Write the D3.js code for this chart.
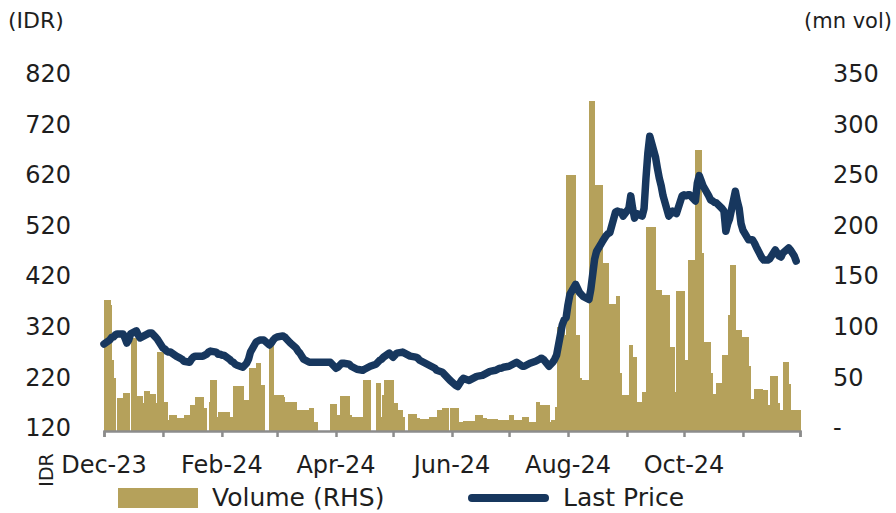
<!DOCTYPE html>
<html>
<head>
<meta charset="utf-8">
<script src="https://cdn.jsdelivr.net/npm/d3@7"></script>
<style>
  body { margin: 0; background: #fff; }
  svg { display: block; font-family: "DejaVu Sans", Verdana, sans-serif; }
</style>
</head>
<body>
<div class="chart"></div>
<script>
var w = 896;
var h = 513;

// trading days (weekdays) Dec-23 .. Nov-24
var tradeDays = d3.timeDay.range(new Date(2023, 11, 1), new Date(2024, 10, 30))
    .filter(function(d) { return d.getDay() % 6 !== 0; });

// volume, mn shares (one value per weekday, month by month)
var volume = [
  130,125,70,52,0,33,38,38,38,0,92,35,35,35,28,40,37,37,37,28,78,          // Dec
  29,29,11,16,16,13,13,13,13,16,26,26,26,34,34,23,23,0,29,50,14,19,19,     // Jan
  19,19,14,14,44,44,44,31,31,31,62,62,67,67,45,45,0,87,87,36,36,           // Feb
  36,34,29,29,29,29,21,21,21,21,21,23,23,9,9,0,0,0,0,0,27,                 // Mar
  16,16,35,35,35,16,14,14,14,14,50,50,50,50,0,47,47,14,36,50,50,50,        // Apr
  28,28,21,14,0,0,17,17,13,13,12,12,12,14,14,14,14,21,23,23,23,0,23,       // May
  23,9,9,9,10,10,10,10,16,16,13,13,12,12,12,12,11,11,11,11,                // Jun
  16,16,11,11,11,14,14,14,9,9,29,29,26,26,26,9,11,11,24,103,105,95,253,    // Jul
  253,253,95,95,52,50,50,326,326,326,243,243,166,166,166,126,126,133,133,57,36,36, // Aug
  85,85,73,73,29,39,39,202,202,202,139,139,139,134,134,83,83,83,39,138,138, // Sep
  70,70,169,169,278,278,278,176,88,88,57,37,37,47,75,75,75,115,164,100,100,100,93, // Oct
  93,64,32,32,42,42,41,41,41,26,54,54,28,21,21,68,46,21,21,21,21           // Nov
];

// last price, IDR
var price = [
  292,300,305,306,310,312,312,304,294,300,312,318,310,304,306,308,314,314,310,306,302,
  284,282,278,276,276,268,266,264,262,258,256,262,266,268,268,268,270,272,276,278,276,272,272,
  270,270,262,258,256,252,250,246,250,254,262,276,296,298,300,300,300,290,294,300,304,
  306,308,306,302,298,294,284,278,274,268,262,256,256,256,256,256,256,256,256,256,256,
  244,246,250,254,254,252,248,246,244,242,240,242,244,246,248,252,256,260,262,266,274,270,
  266,270,274,276,274,272,270,268,266,264,260,258,256,250,248,246,244,240,236,232,228,224,220,
  210,208,214,220,224,220,222,224,226,228,230,232,234,236,238,240,242,244,244,246,
  248,250,252,254,256,248,248,250,252,254,258,260,262,264,262,248,252,256,262,270,330,340,344,
  370,390,410,402,394,390,386,380,400,430,460,475,494,500,506,510,512,553,555,553,553,545,
  560,585,560,541,550,545,560,620,670,703,662,640,620,605,585,545,550,555,553,550,585,
  587,585,587,587,575,610,625,615,605,585,577,575,572,571,560,555,515,530,540,594,575,560,530,
  517,498,498,498,492,484,462,458,458,458,460,478,472,466,464,472,482,478,472,466,456
];

var priceTicks = [120, 220, 320, 420, 520, 620, 720, 820];
var volumeTicks = [0, 50, 100, 150, 200, 250, 300, 350];
var monthTicks = d3.timeMonth.range(new Date(2023, 11, 1), new Date(2024, 11, 1));
var monthLabels = ["Dec-23", "Feb-24", "Apr-24", "Jun-24", "Aug-24", "Oct-24"];

var axisEnd = new Date(2024, 11, 1);
var x = d3.scaleTime().domain([new Date(2023, 11, 1), axisEnd]).range([104, 800]);
var yL = d3.scaleLinear().domain([120, 820]).range([431, 77]);
var yR = d3.scaleLinear().domain([0, 350]).range([431, 77]);

var svg = d3.select(".chart").append("svg")
    .attr("width", w)
    .attr("height", h);

// volume bars
svg.append("g")
    .attr("shape-rendering", "crispEdges")
    .selectAll("rect")
    .data(volume)
    .enter()
    .append("rect")
    .attr("x", function(d, i) { return x(tradeDays[i]); })
    .attr("width", function(d, i) {
        var next = i < tradeDays.length - 1 ? tradeDays[i + 1] : axisEnd;
        return x(next) - x(tradeDays[i]) + 0.8;
    })
    .attr("y", function(d) { return yR(d); })
    .attr("height", function(d) { return yR(0) - yR(d); })
    .attr("fill", "#B5A15B");

// x axis line + month ticks
var xAxis = svg.append("g")
    .attr("transform", "translate(0,431)")
    .call(d3.axisBottom(x).tickValues(monthTicks.concat([axisEnd])).tickSize(6).tickFormat(""));
xAxis.select(".domain").attr("stroke", "#8c8c8c").attr("stroke-width", 2.5);
xAxis.selectAll(".tick line").attr("stroke", "#8c8c8c").attr("stroke-width", 2.5);

svg.append("g").selectAll("text")
    .data(monthLabels)
    .enter()
    .append("text")
    .attr("x", function(d, i) { return x(monthTicks[i * 2]); })
    .attr("y", 473)
    .attr("text-anchor", "middle")
    .attr("font-size", "24px")
    .attr("fill", "#1e1e1e")
    .text(function(d) { return d; });

// price line
var line = d3.line()
    .x(function(d, i) { return x(tradeDays[i]); })
    .y(function(d) { return yL(d); });

svg.append("path")
    .datum(price)
    .attr("d", line)
    .attr("fill", "none")
    .attr("stroke", "#17375E")
    .attr("stroke-width", 7.5)
    .attr("stroke-linejoin", "round")
    .attr("stroke-linecap", "round");

// left axis labels
var left = svg.append("g")
    .attr("transform", "translate(104,-3)")
    .call(d3.axisLeft(yL).tickValues(priceTicks).tickSize(0).tickPadding(33));
left.select(".domain").remove();
left.selectAll("text").attr("font-size", "24px").attr("font-family", "DejaVu Sans").attr("fill", "#1e1e1e");

// right axis labels
var right = svg.append("g")
    .attr("transform", "translate(800,-3)")
    .call(d3.axisRight(yR).tickValues(volumeTicks).tickSize(0).tickPadding(33)
        .tickFormat(function(d) { return d === 0 ? "-" : d; }));
right.select(".domain").remove();
right.selectAll("text").attr("font-size", "24px").attr("font-family", "DejaVu Sans").attr("fill", "#1e1e1e");

// unit titles
svg.append("text").attr("x", 8).attr("y", 28).attr("font-size", "22px").attr("fill", "#1e1e1e").text("(IDR)");
svg.append("text").attr("x", 892).attr("y", 28).attr("text-anchor", "end").attr("font-size", "21px").attr("fill", "#1e1e1e").text("(mn vol)");

svg.append("text")
    .attr("transform", "translate(53,470) rotate(-90)")
    .attr("text-anchor", "middle")
    .attr("font-size", "19px")
    .attr("fill", "#1e1e1e")
    .text("IDR");

// legend
svg.append("rect").attr("x", 118).attr("y", 488).attr("width", 80).attr("height", 20).attr("fill", "#B5A15B");
svg.append("text").attr("x", 212).attr("y", 506).attr("font-size", "25px").attr("fill", "#1e1e1e").text("Volume (RHS)");
svg.append("line").attr("x1", 472).attr("x2", 545).attr("y1", 498).attr("y2", 498)
    .attr("stroke", "#17375E").attr("stroke-width", 8).attr("stroke-linecap", "round");
svg.append("text").attr("x", 563).attr("y", 506).attr("font-size", "25px").attr("fill", "#1e1e1e").text("Last Price");
</script>
</body>
</html>
